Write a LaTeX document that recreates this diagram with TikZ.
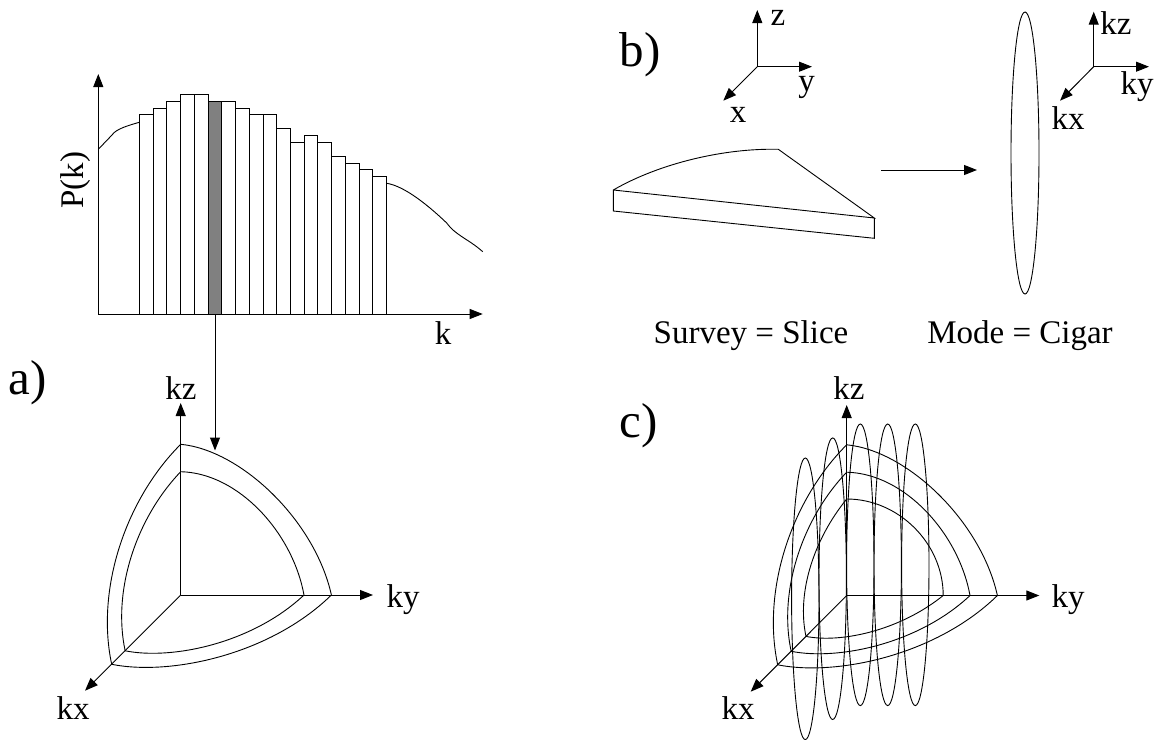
\documentclass[tikz,border=0pt]{standalone}
\usepackage{fontspec}
\setmainfont{Liberation Serif}
\usetikzlibrary{arrows.meta}

\tikzset{
  axis/.style={line width=1pt, -{Triangle[length=13pt,width=10pt]}},
  lab/.style={inner sep=0pt, font=\fontsize{33}{36}\selectfont},
  panel/.style={inner sep=0pt, font=\fontsize{49}{52}\selectfont},
}
% one octant shell round the current origin: #1 radius, #2-#5 controls of the upper arc, #6 size of the lower arcs
\newcommand{\kshell}[6]{
  \draw (0,{-#1}) .. controls (#2,#3) and (#4,#5) .. (#1,0)
    .. controls ({89.3*#6},{60*#6}) and ({-10.7*#6},{81*#6}) .. ({-69*#6},{69.3*#6})
    .. controls ({-85*#6},{-5*#6}) and ({-55.7*#6},{-95*#6}) .. (0,{-#1});
}

\begin{document}
\begin{tikzpicture}[x=1pt, y=-1pt, line width=0.9pt]
  \useasboundingbox (0,0) rectangle (1154,739);

  % spectrum
  \coordinate (porigin) at (98.3,314);
  \coordinate (ptop) at (98.3,74);
  \coordinate (pright) at (482.7,314);
  \foreach \htop [count=\i from 0] in {114.7,108,101,94.3,94.3,101,101,108,114.7,114.7,128.3,142.3,135.3,142.3,156,163,169.7,176.7}
    \draw ({139.3+13.74*\i},314) rectangle ({139.3+13.74*(\i+1)},\htop);
  \filldraw[fill=black!50] ({139.3+13.74*5},314) rectangle ({139.3+13.74*6},101);
  \draw[axis] (porigin) -- (ptop);
  \draw[axis] (porigin) -- (pright);
  \draw (98.3,149.3) -- (112,135) .. controls (116,129) and (128,125.5) .. (139.3,122.3);
  \draw (386.6,183.3) .. controls (405,186) and (430,207) .. (446.7,223)
    .. controls (455,235) and (470,240) .. (482.7,251.7);
  \node[lab, rotate=90] (plabel) at (75.7,180) {P(k)};
  \node[lab] (klabel) at (443,333) {k};

  % panel a
  \node[panel] (apanel) at (28,383) {a)};
  \coordinate (binfoot) at (215,314);
  \coordinate (bintip) at (215,450.5);
  \draw[axis] (binfoot) -- (bintip);
  \coordinate (aorigin) at (180.7,595);
  \coordinate (akz) at (180.7,403);
  \coordinate (aky) at (373,595);
  \coordinate (akx) at (85,690.7);
  \draw[axis] (aorigin) -- (akz);
  \draw[axis] (aorigin) -- (aky);
  \draw[axis] (aorigin) -- (akx);
  \begin{scope}[shift={(aorigin)}]
    \kshell{150.7}{60}{-145}{134}{-75}{1}
    \kshell{123.3}{58}{-122}{112}{-62}{0.805}
  \end{scope}
  \node[lab] (akzlabel) at (181,388) {kz};
  \node[lab] (akylabel) at (403,600) {ky};
  \node[lab] (akxlabel) at (73,708) {kx};

  % panel b
  \node[panel] (bpanel) at (640,55) {b)};
  \coordinate (xorigin) at (757.3,66.7);
  \coordinate (xz) at (757.3,10);
  \coordinate (xy) at (812,66.7);
  \coordinate (xx) at (723.3,100.7);
  \draw[axis] (xorigin) -- (xz);
  \draw[axis] (xorigin) -- (xy);
  \draw[axis] (xorigin) -- (xx);
  \node[lab] (zlabel) at (778,18) {z};
  \node[lab] (ylabel) at (806.7,87) {y};
  \node[lab] (xlabel) at (738,115) {x};
  \draw (613.3,190) .. controls (660,163) and (725,148) .. (778.3,149.3)
    -- (874.3,218) -- (613.3,190) -- (613.3,211) -- (874.3,238.3) -- (874.3,218);
  \coordinate (slicetail) at (881,170);
  \coordinate (cigarhead) at (977,170);
  \draw[axis] (slicetail) -- (cigarhead);
  \draw (1025,153) ellipse (14 and 141);
  \coordinate (korigin) at (1093.7,66.7);
  \coordinate (kkz) at (1093.7,11.7);
  \coordinate (kky) at (1149,66.7);
  \coordinate (kkx) at (1060,100.7);
  \draw[axis] (korigin) -- (kkz);
  \draw[axis] (korigin) -- (kky);
  \draw[axis] (korigin) -- (kkx);
  \node[lab] (kkzlabel) at (1116,23) {kz};
  \node[lab] (kkylabel) at (1137,87) {ky};
  \node[lab] (kkxlabel) at (1068,118) {kx};
  \node[lab] (survey) at (751,335.5) {Survey = Slice};
  \node[lab] (mode) at (1020,335.5) {Mode = Cigar};

  % panel c
  \node[panel] (cpanel) at (638.7,425.5) {c)};
  \coordinate (corigin) at (846.7,595.5);
  \coordinate (ckz) at (846.7,405);
  \coordinate (cky) at (1039.3,595.5);
  \coordinate (ckx) at (750.7,691.7);
  \draw[axis] (corigin) -- (ckz);
  \draw[axis] (corigin) -- (cky);
  \draw[axis] (corigin) -- (ckx);
  \begin{scope}[shift={(corigin)}]
    \kshell{150.7}{60}{-145}{134}{-75}{1}
    \kshell{123.3}{58}{-122}{112}{-62}{0.805}
    \kshell{96.5}{52}{-96.5}{96.5}{-52}{0.59}
  \end{scope}
  \foreach \cx/\cy in {805.3/598.8,832.7/578.7,860.3/564.8,887.7/564.8,915.3/564.8}
    \draw (\cx,\cy) ellipse (13.7 and 140.8);
  \node[lab] (ckzlabel) at (849,388) {kz};
  \node[lab] (ckylabel) at (1068,600) {ky};
  \node[lab] (ckxlabel) at (738,708) {kx};
\end{tikzpicture}
\end{document}
